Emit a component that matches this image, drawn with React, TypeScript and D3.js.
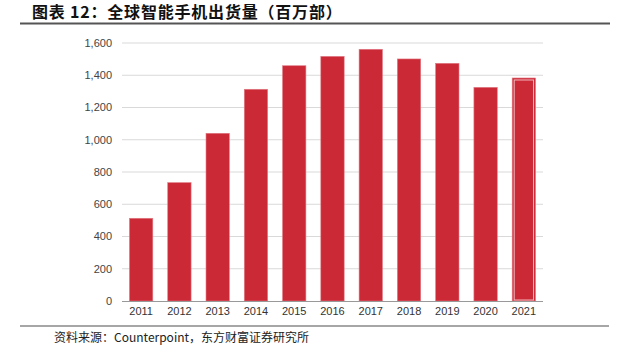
import React from "react";
import * as d3 from "d3";

const years = ["2011", "2012", "2013", "2014", "2015", "2016", "2017", "2018", "2019", "2020", "2021"];
const shipments = [513, 734, 1040, 1313, 1459, 1517, 1561, 1501, 1474, 1325, 1383];
const yTicks = [0, 200, 400, 600, 800, 1000, 1200, 1400, 1600];
const highlightYear = "2021";
const title = "图表 12：全球智能手机出货量（百万部）";
const source = "资料来源：Counterpoint，东方财富证券研究所";

const W = 619;
const H = 351;
const plot = { left: 122, right: 543, top: 43, bottom: 301 };

export default function App() {
  const x = d3.scaleBand<string>().domain(years).range([plot.left, plot.right]).paddingInner(0.39).paddingOuter(0.195);
  const y = d3.scaleLinear().domain([0, 1600]).range([plot.bottom, plot.top]);
  const fmt = d3.format(",");
  const barColor = "#cc2937";
  return (
    <svg width={W} height={H} style={{ position: "absolute", left: 0, top: 0, background: "#fff" }}>
      <text x={32} y={18} fontFamily="'Noto Sans CJK SC', sans-serif" fontWeight={700} fontSize={16} fill="#111" letterSpacing={0.8}>
        {title}
      </text>
      <line x1={20} x2={610} y1={23.5} y2={23.5} stroke="#555" strokeWidth={1.8} />
      {yTicks.map((t) => (
        <g key={t}>
          {t > 0 && <line x1={plot.left} x2={plot.right} y1={y(t)} y2={y(t)} stroke="#d9d9d9" strokeWidth={1} />}
          <text x={112} y={y(t)} dy="0.35em" textAnchor="end" fontFamily="Arial, 'Liberation Sans', sans-serif" fontSize={11} fill="#444">
            {fmt(t)}
          </text>
        </g>
      ))}
      {years.map((yr, i) => {
        const bx = x(yr)!;
        const bw = x.bandwidth();
        const top = y(shipments[i]);
        const h = plot.bottom - top;
        return (
          <g key={yr}>
            <rect x={bx} y={top} width={bw} height={h} fill={barColor} stroke="#e07a83" strokeWidth={0.6} />
            {yr === highlightYear && (
              <rect x={bx + 2} y={top + 2} width={bw - 4} height={h - 3} fill="none" stroke="#f2b8bd" strokeWidth={1} />
            )}
            <text x={bx + bw / 2} y={315} textAnchor="middle" fontFamily="Arial, 'Liberation Sans', sans-serif" fontSize={11} fill="#333">
              {yr}
            </text>
          </g>
        );
      })}
      <line x1={plot.left} x2={plot.right} y1={plot.bottom + 0.5} y2={plot.bottom + 0.5} stroke="#999" strokeWidth={1.2} />
      <line x1={20} x2={609} y1={326} y2={326} stroke="#888" strokeWidth={1.5} />
      <text x={54} y={342} fontFamily="'Noto Sans CJK SC', sans-serif" fontSize={12} fill="#222">
        {source}
      </text>
    </svg>
  );
}
